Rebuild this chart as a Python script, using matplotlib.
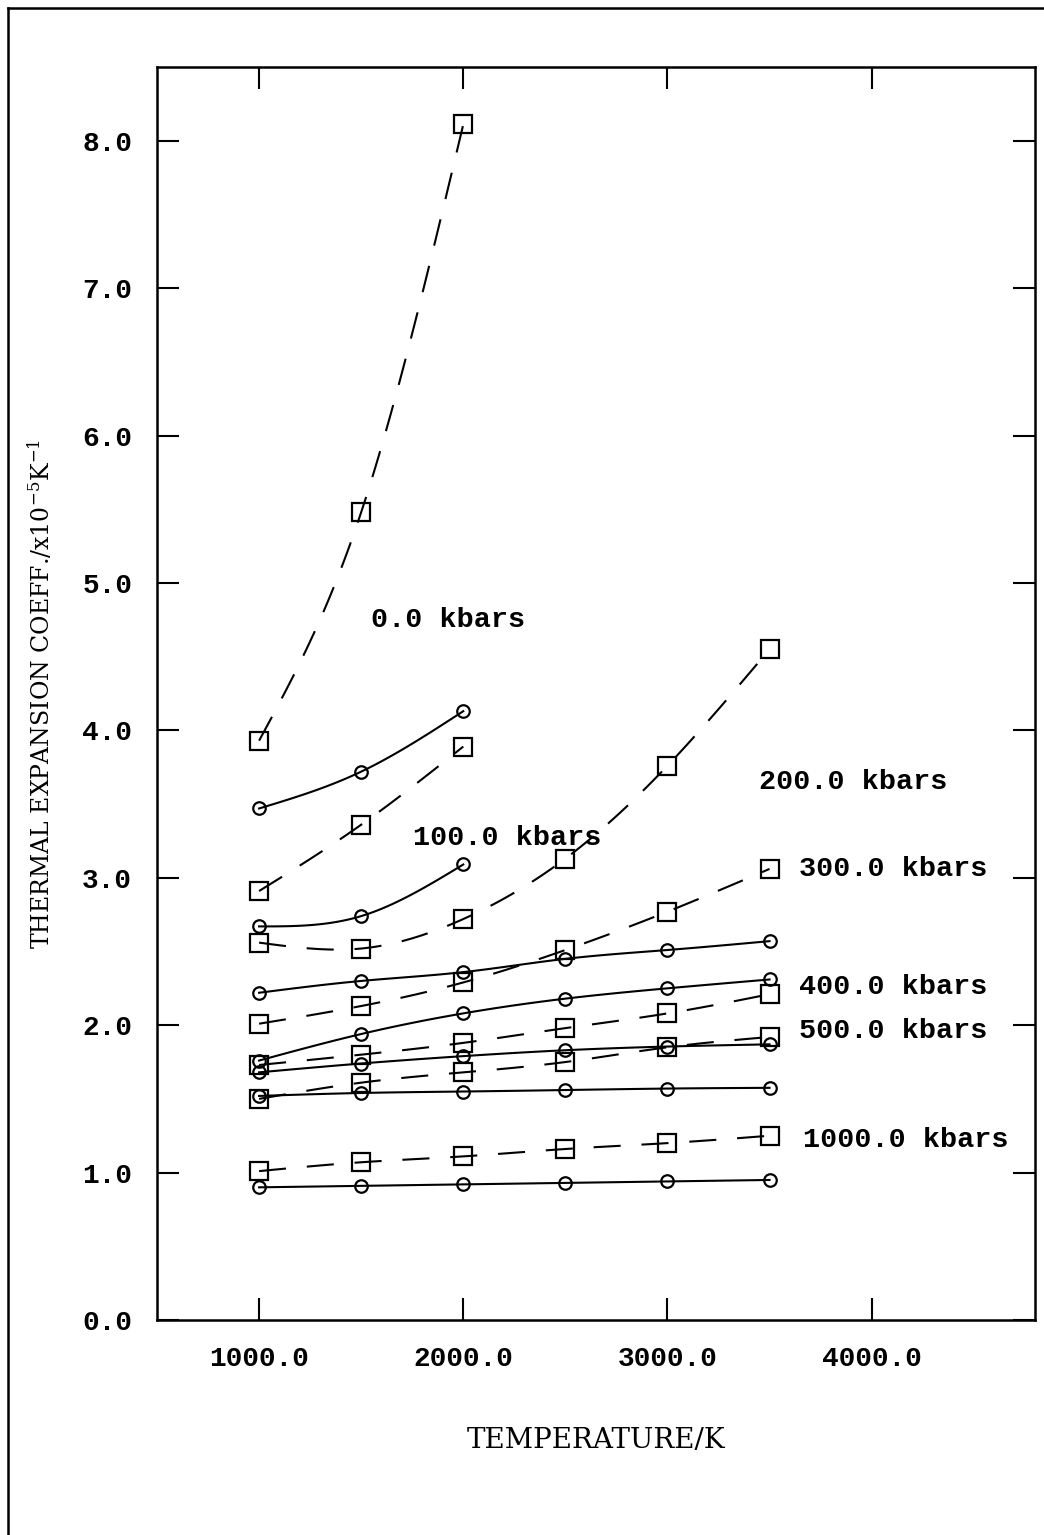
import numpy as np
import matplotlib
matplotlib.use("Agg")
import matplotlib.pyplot as plt
from matplotlib.lines import Line2D

plt.rcParams["mathtext.fontset"] = "dejavuserif"

# temperatures (K)
temps_short = [1000, 1500, 2000]
temps_long = [1000, 1500, 2000, 2500, 3000, 3500]

# thermal expansion coefficient, x1e-5 /K
# squares (dashed) and circles (solid) per pressure
sq_0 = [3.93, 5.48, 8.11]
ci_0 = [3.47, 3.72, 4.13]
sq_100 = [2.91, 3.36, 3.89]
ci_100 = [2.67, 2.74, 3.09]
sq_200 = [2.56, 2.52, 2.72, 3.13, 3.76, 4.55]
ci_200 = [2.22, 2.30, 2.36, 2.45, 2.51, 2.57]
sq_300 = [2.01, 2.13, 2.29, 2.51, 2.77, 3.06]
ci_300 = [1.76, 1.94, 2.08, 2.18, 2.25, 2.31]
sq_400 = [1.73, 1.80, 1.88, 1.98, 2.08, 2.21]
ci_400 = [1.68, 1.74, 1.79, 1.83, 1.855, 1.87]
sq_500 = [1.50, 1.61, 1.68, 1.75, 1.85, 1.92]
ci_500 = [1.52, 1.54, 1.55, 1.56, 1.57, 1.575]
sq_1000 = [1.01, 1.07, 1.11, 1.16, 1.20, 1.25]
ci_1000 = [0.90, 0.91, 0.92, 0.93, 0.94, 0.95]

labels = ["0.0 kbars", "100.0 kbars", "200.0 kbars", "300.0 kbars",
          "400.0 kbars", "500.0 kbars", "1000.0 kbars"]
label_x = [1546, 1754, 3446, 3646, 3646, 3646, 3663]
label_y = [4.75, 3.27, 3.65, 3.06, 2.26, 1.96, 1.22]


def smooth(x, y, n=120):
    # natural cubic spline through the points
    x = np.asarray(x, float)
    y = np.asarray(y, float)
    k = len(x)
    h = np.diff(x)
    A = np.zeros((k, k))
    b = np.zeros(k)
    A[0, 0] = A[-1, -1] = 1.0
    for i in range(1, k - 1):
        A[i, i - 1] = h[i - 1]
        A[i, i] = 2 * (h[i - 1] + h[i])
        A[i, i + 1] = h[i]
        b[i] = 6 * ((y[i + 1] - y[i]) / h[i] - (y[i] - y[i - 1]) / h[i - 1])
    m = np.linalg.solve(A, b)
    xs = np.linspace(x[0], x[-1], n)
    idx = np.clip(np.searchsorted(x, xs) - 1, 0, k - 2)
    x0, x1 = x[idx], x[idx + 1]
    hh = x1 - x0
    t0, t1 = x1 - xs, xs - x0
    ys = (m[idx] * t0 ** 3 + m[idx + 1] * t1 ** 3) / (6 * hh) \
        + (y[idx] / hh - m[idx] * hh / 6) * t0 \
        + (y[idx + 1] / hh - m[idx + 1] * hh / 6) * t1
    return xs, ys


fig = plt.figure(figsize=(10.44, 15.35), dpi=100)
ax = fig.add_axes([157 / 1044, 1 - 1320 / 1535, 878 / 1044, 1253 / 1535])

tick_font = dict(family="Liberation Mono", weight="bold", size=20)
kbar_font = dict(family="Liberation Mono", weight="bold", size=20.5)

squares = [sq_0, sq_100, sq_200, sq_300, sq_400, sq_500, sq_1000]
circles = [ci_0, ci_100, ci_200, ci_300, ci_400, ci_500, ci_1000]

for sq, ci in zip(squares, circles):
    t = temps_short if len(sq) == 3 else temps_long
    xs, ys = smooth(t, sq)
    ax.plot(xs, ys, color="black", lw=1.5, dashes=(13, 10))
    ax.plot(t, sq, ls="none", marker="s", ms=13.5, mfc="none", mec="black", mew=1.6)
    xs, ys = smooth(t, ci)
    ax.plot(xs, ys, color="black", lw=1.5)
    ax.plot(t, ci, ls="none", marker="o", ms=9, mfc="none", mec="black", mew=1.6)

for txt, lx, ly in zip(labels, label_x, label_y):
    ax.text(lx, ly, txt, ha="left", va="center", **kbar_font)

ax.set_xlim(500, 4800)
ax.set_ylim(0, 8.5)
ax.set_xticks([1000, 2000, 3000, 4000])
ax.set_yticks(np.arange(0, 9, 1.0))
ax.set_xticklabels([f"{v:.1f}" for v in [1000, 2000, 3000, 4000]], **tick_font)
ax.set_yticklabels([f"{v:.1f}" for v in np.arange(0, 9, 1.0)], **tick_font)
ax.tick_params(direction="in", length=16, width=1.5, top=True, right=True)
ax.tick_params(axis="x", pad=19)
ax.tick_params(axis="y", pad=18)
for s in ax.spines.values():
    s.set_linewidth(1.8)

ax.set_xlabel("TEMPERATURE/K", labelpad=39, family="DejaVu Serif", size=20)
ax.set_ylabel("THERMAL EXPANSION COEFF./x10$^{-5}$K$^{-1}$", labelpad=20,
              family="DejaVu Serif", size=17)

# outer frame (left and top edges)
fig.add_artist(Line2D([8 / 1044, 8 / 1044], [0, 1 - 8 / 1535], color="black", lw=1.8,
                      transform=fig.transFigure))
fig.add_artist(Line2D([8 / 1044, 1], [1 - 8 / 1535, 1 - 8 / 1535], color="black", lw=1.8,
                      transform=fig.transFigure))

fig.savefig("out.png", dpi=100)
